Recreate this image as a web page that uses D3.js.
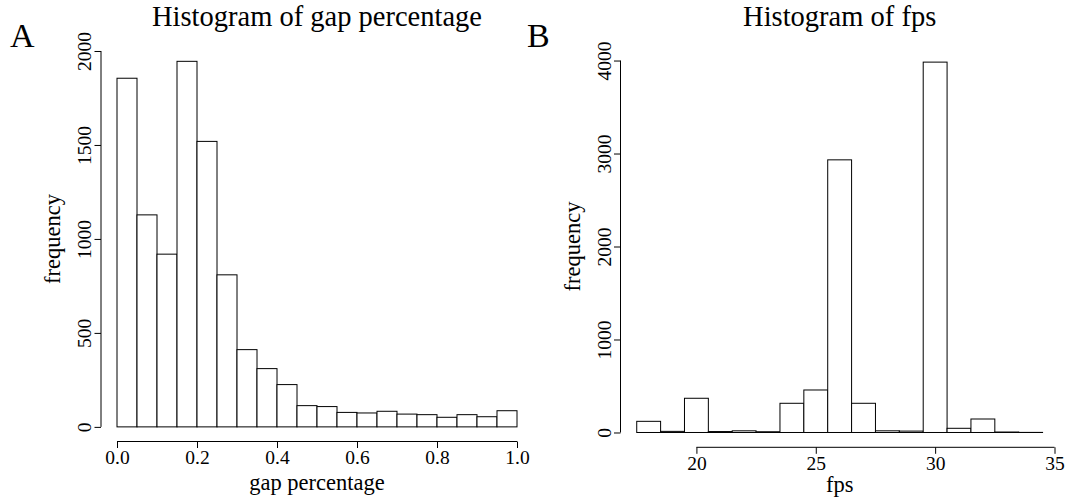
<!DOCTYPE html>
<html>
<head>
<meta charset="utf-8">
<script src="https://cdn.jsdelivr.net/npm/d3@7"></script>
<style>
  body { margin: 0; background: #fff; }
  svg { display: block; font-family: "Liberation Serif", "Times New Roman", serif; }
</style>
</head>
<body>
<div id="chart"></div>
<script>
// panel A - gap percentage
const gapBreaks = [0, 0.05, 0.1, 0.15, 0.2, 0.25, 0.3, 0.35, 0.4, 0.45, 0.5, 0.55, 0.6, 0.65, 0.7, 0.75, 0.8, 0.85, 0.9, 0.95, 1.0]
const gapCounts = [1855, 1128, 919, 1945, 1519, 809, 411, 310, 225, 113, 108, 77, 74, 83, 68, 65, 51, 65, 54, 86]
const gapTicks = [0, 0.2, 0.4, 0.6, 0.8, 1.0]
const gapFreqTicks = [0, 500, 1000, 1500, 2000]

// panel B - fps
const fpsBreaks = [17.5, 18.5, 19.5, 20.5, 21.5, 22.5, 23.5, 24.5, 25.5, 26.5, 27.5, 28.5, 29.5, 30.5, 31.5, 32.5, 33.5, 34.5]
const fpsCounts = [120, 12, 368, 10, 18, 8, 314, 457, 2932, 314, 18, 15, 3983, 45, 145, 5, 1]
const fpsTicks = [20, 25, 30, 35]
const fpsFreqTicks = [0, 1000, 2000, 3000, 4000]

const width = 1069
const height = 499

const svg = d3.select('#chart').append('svg')
    .attr('width', width)
    .attr('height', height)

svg.append('rect').attr('width', width).attr('height', height).attr('fill', '#fff')

function drawHist(p) {
    var lo = p.breaks[0]
    var hi = p.breaks[p.breaks.length - 1]
    var span = hi - lo
    var maxC = d3.max(p.counts)

    // R style 4% padding on both scales
    const x = d3.scaleLinear()
        .domain([lo - 0.04 * span, hi + 0.04 * span])
        .range([p.box.x0, p.box.x1])
    const y = d3.scaleLinear()
        .domain([-0.04 * maxC, 1.04 * maxC])
        .range([p.box.y1, p.box.y0])

    var bins = p.counts.map((c, i) => ({ x0: p.breaks[i], x1: p.breaks[i + 1], count: c }))

    const g = svg.append('g')

    g.append('g')
        .selectAll('rect')
        .data(bins)
        .join('rect')
        .attr('x', d => x(d.x0))
        .attr('y', d => y(d.count))
        .attr('width', d => x(d.x1) - x(d.x0))
        .attr('height', d => y(0) - y(d.count))
        .attr('fill', '#fff')
        .attr('stroke', '#000')
        .attr('stroke-width', 1)

    // y axis
    const yAxis = g.append('g')
        .attr('transform', `translate(${p.box.x0},0)`)
        .call(d3.axisLeft(y).tickValues(p.yTicks).tickSize(6.5).tickFormat(d3.format('d')))
    yAxis.select('.domain').remove()
    yAxis.append('line')
        .attr('y1', y(p.yTicks[0]))
        .attr('y2', y(p.yTicks[p.yTicks.length - 1]))
        .attr('stroke', '#000')
    yAxis.selectAll('.tick line').attr('stroke', '#000')
    yAxis.selectAll('.tick text')
        .attr('transform', 'rotate(-90)')
        .attr('x', 0)
        .attr('y', -10)
        .attr('dy', null)
        .attr('text-anchor', 'middle')
        .attr('fill', '#000')
        .style('font-size', '19.5px')
        .style('font-family', '"Liberation Serif", serif')

    // x axis
    const xAxis = g.append('g')
        .attr('transform', `translate(0,${p.box.y1})`)
        .call(d3.axisBottom(x).tickValues(p.xTicks).tickSize(6.5).tickFormat(p.xFormat))
    xAxis.select('.domain').remove()
    xAxis.append('line')
        .attr('x1', x(p.xTicks[0]))
        .attr('x2', x(p.xTicks[p.xTicks.length - 1]))
        .attr('stroke', '#000')
    xAxis.selectAll('.tick line').attr('stroke', '#000')
    xAxis.selectAll('.tick text')
        .attr('y', 22.5)
        .attr('dy', null)
        .attr('fill', '#000')
        .style('font-size', '19.5px')
        .style('font-family', '"Liberation Serif", serif')

    var cx = (p.box.x0 + p.box.x1) / 2
    var cy = y((p.yTicks[0] + p.yTicks[p.yTicks.length - 1]) / 2)

    g.append('text')
        .attr('x', cx)
        .attr('y', 26)
        .attr('text-anchor', 'middle')
        .style('font-size', '28.5px')
        .text(p.title)

    g.append('text')
        .attr('x', cx)
        .attr('y', p.box.y1 + p.xlabGap)
        .attr('text-anchor', 'middle')
        .style('font-size', '22.5px')
        .text(p.xlab)

    g.append('text')
        .attr('transform', `translate(${p.box.x0 - 41},${cy}) rotate(-90)`)
        .attr('text-anchor', 'middle')
        .style('font-size', '22.5px')
        .text('frequency')

    g.append('text')
        .attr('x', p.letterX)
        .attr('y', 47)
        .style('font-size', '34px')
        .text(p.letter)
}

drawHist({
    breaks: gapBreaks,
    counts: gapCounts,
    xTicks: gapTicks,
    yTicks: gapFreqTicks,
    xFormat: d3.format('.1f'),
    box: { x0: 101, x1: 533, y0: 46.7, y1: 441.5 },
    title: 'Histogram of gap percentage',
    xlab: 'gap percentage',
    xlabGap: 48,
    letter: 'A',
    letterX: 10
})

drawHist({
    breaks: fpsBreaks,
    counts: fpsCounts,
    xTicks: fpsTicks,
    yTicks: fpsFreqTicks,
    xFormat: d3.format('d'),
    box: { x0: 620.5, x1: 1058.8, y0: 47.3, y1: 447.3 },
    title: 'Histogram of fps',
    xlab: 'fps',
    xlabGap: 45,
    letter: 'B',
    letterX: 527
})
</script>
</body>
</html>
